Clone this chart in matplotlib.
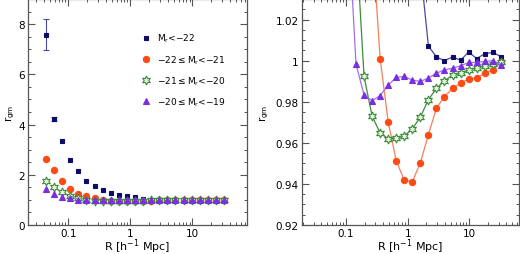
import matplotlib
matplotlib.use("Agg")
import matplotlib.pyplot as plt
from matplotlib.ticker import MultipleLocator, LogLocator, NullFormatter, FixedLocator, FixedFormatter

# separation bins [h^-1 Mpc]
R = [0.0437, 0.0590, 0.0796, 0.1075, 0.1452, 0.1961, 0.2649, 0.3577, 0.4831,
     0.6525, 0.881, 1.190, 1.607, 2.171, 2.931, 3.958, 5.346, 7.220, 9.750,
     13.17, 17.78, 24.02, 32.43]

# r_gm for each luminosity bin
r_m22 = [7.58, 4.21, 3.34, 2.60, 2.14, 1.77, 1.54, 1.40, 1.28, 1.19, 1.14, 1.10,
         1.045, 1.0071, 1.0018, 1.0000, 1.0018, 1.0002, 1.0042, 1.0010, 1.0034,
         1.0040, 1.0020]
err_m22 = [0.63, 0.08, 0.04, 0.03, 0.02, 0.02, 0.01, 0.01, 0.01, 0.01, 0.01, 0.01,
           0.0, 0.0, 0.0, 0.0, 0.0, 0.0, 0.0, 0.0, 0.0, 0.0, 0.0]
r_m21 = [2.64, 2.18, 1.77, 1.45, 1.25, 1.14, 1.06, 1.0010, 0.9701, 0.9513, 0.9417,
         0.9411, 0.9503, 0.9640, 0.9769, 0.9825, 0.9865, 0.9889, 0.9913, 0.9915,
         0.9939, 0.9955, 0.9991]
r_m20 = [1.77, 1.50, 1.31, 1.16, 1.06, 0.9923, 0.9730, 0.9648, 0.9620, 0.9622,
         0.9633, 0.9669, 0.9725, 0.9810, 0.9865, 0.9902, 0.9929, 0.9939, 0.9955,
         0.9965, 0.9975, 0.9986, 0.9991]
r_m19 = [1.43, 1.25, 1.12, 1.07, 0.9983, 0.9833, 0.9805, 0.9830, 0.9881, 0.9918,
         0.9923, 0.9905, 0.9899, 0.9915, 0.9939, 0.9955, 0.9963, 0.9975, 0.9991,
         0.9991, 0.9996, 1.0000, 0.9979]

labels = [r'M$_r$<$-$22', r'$-$22$\leq$M$_r$<$-$21',
          r'$-$21$\leq$M$_r$<$-$20', r'$-$20$\leq$M$_r$<$-$19']

# (values, marker, face, edge, line colour, size)
series = [
    (r_m22, 's', '#0c0c6a', '#0c0c6a', '#4a4a9a', 3.5),
    (r_m21, 'o', '#ff4a14', '#ff4a14', '#f5805a', 4.5),
    (r_m20, (6, 1, 0), '#e4f4d8', '#3c8c3c', '#3c8c3c', 6.5),
    (r_m19, '^', '#7a2ee0', '#7a2ee0', '#a070f0', 4.5),
]

plt.rcParams['font.size'] = 8
plt.rcParams['mathtext.default'] = 'regular'

fig = plt.figure(figsize=(5.2, 2.55), dpi=100)
ax1 = fig.add_axes([28/520, 29/255, 219/520, 226/255])
ax2 = fig.add_axes([301.7/520, 29/255, 217.3/520, 226/255])

for i, (vals, mk, fc, ec, lc, ms) in enumerate(series):
    ax1.plot(R, vals, linestyle='none', marker=mk, mfc=fc, mec=ec, ms=ms,
             mew=0.8, label=labels[i], zorder=3)
    ax2.plot(R, vals, '-', color=lc, lw=0.9, marker=mk, mfc=fc, mec=ec,
             ms=ms, mew=0.8, zorder=3)

ax1.errorbar(R[:2], r_m22[:2], yerr=err_m22[:2], fmt='none', ecolor='#4a4a9a',
             elinewidth=0.8, capsize=2.5, capthick=0.8, zorder=2)

ax1.set_xlim(0.0224, 76)
ax1.set_ylim(0, 9)
ax2.set_xlim(0.0191, 64)
ax2.set_ylim(0.92, 1.03)

for ax in (ax1, ax2):
    ax.set_xscale('log')
    ax.xaxis.set_major_locator(FixedLocator([0.1, 1, 10]))
    ax.xaxis.set_major_formatter(FixedFormatter(['0.1', '1', '10']))
    ax.xaxis.set_minor_locator(LogLocator(base=10, subs=range(2, 10), numticks=20))
    ax.xaxis.set_minor_formatter(NullFormatter())
    ax.tick_params(which='both', direction='in', top=True, right=True,
                   labelsize=7.5, color='#555555', pad=2)
    ax.tick_params(which='major', length=5, width=0.8)
    ax.tick_params(which='minor', length=2.5, width=0.7)
    for s in ax.spines.values():
        s.set_color('#555555')
        s.set_linewidth(0.9)
    ax.set_xlabel(r'R [h$^{-1}$ Mpc]', fontsize=8, labelpad=-1)
    ax.set_ylabel(r'r$_{gm}$', fontsize=7.5)

ax1.yaxis.set_label_coords(-0.05, 0.5)
ax2.yaxis.set_label_coords(-0.14, 0.5)

ax1.yaxis.set_major_locator(MultipleLocator(2))
ax1.yaxis.set_minor_locator(MultipleLocator(0.5))
ax2.yaxis.set_major_locator(FixedLocator([0.92, 0.94, 0.96, 0.98, 1.0, 1.02]))
ax2.yaxis.set_major_formatter(FixedFormatter(['0.92', '0.94', '0.96', '0.98', '1', '1.02']))
ax2.yaxis.set_minor_locator(MultipleLocator(0.005))

ax1.legend(loc='upper left', bbox_to_anchor=(0.5, 0.87), frameon=False,
           fontsize=6.5, handlelength=1.0, handletextpad=0.8, labelspacing=0.95,
           borderaxespad=0)

fig.savefig('out.png', dpi=100)
